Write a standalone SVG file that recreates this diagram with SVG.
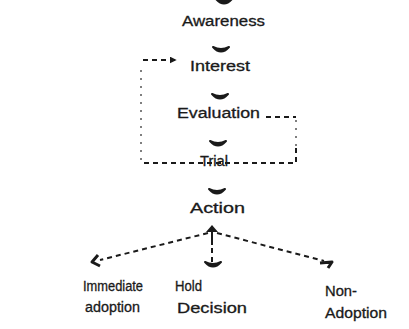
<svg xmlns="http://www.w3.org/2000/svg" xmlns:xlink="http://www.w3.org/1999/xlink" width="409" height="329" viewBox="0 0 409 329">
<style>
text{font-family:"Liberation Sans",Arial,sans-serif;font-size:14px;fill:#1a1a1a;stroke:#1a1a1a;stroke-width:0.3;text-anchor:start}
.dash{fill:none;stroke:#1a1a1a;stroke-width:2;stroke-dasharray:5,4}
.dot{fill:none;stroke:#555;stroke-width:1.5;stroke-dasharray:2,6}
.solid{fill:none;stroke:#1a1a1a;stroke-width:2}
</style>
<defs>
<path id="ah" d="M-8,-4 Q0,5 8,-4 Q0,0 -8,-4 Z" fill="#1a1a1a" stroke="#1a1a1a" stroke-width="2" stroke-linejoin="round"/>
<marker id="arr" viewBox="0 0 10 10" refX="9" refY="5" markerWidth="7" markerHeight="7" orient="auto" markerUnits="userSpaceOnUse">
<path d="M0,0 L10,5 L0,10 Z" fill="#1a1a1a"/>
</marker>
</defs>
<g id="connectors">
<use xlink:href="#ah" transform="translate(224,3)"/>
<use xlink:href="#ah" transform="translate(221,51)"/>
<use xlink:href="#ah" transform="translate(220,98)"/>
<use xlink:href="#ah" transform="translate(218,145)"/>
<use xlink:href="#ah" transform="translate(217,193)"/>
<path class="dash" d="M266,117 L296,117"/>
<path class="dot" d="M296,120 L296,148"/>
<path class="dash" d="M296,148 L296,163 L141,163"/>
<path class="dot" d="M141,160 L141,66"/>
<path class="dash" d="M143,60 L176,60" marker-end="url(#arr)"/>
<path class="dash" d="M208,233 L100,260"/>
<path class="dash" d="M217,233 L324,261"/>
<path class="solid" d="M212,232 L212,245"/>
<path class="dash" d="M212,248 L212,262"/>
<path d="M206,232 L212,225 L218,232 Z" fill="#1a1a1a"/>
<path d="M98,255 L92,262 L100,266" fill="none" stroke="#1a1a1a" stroke-width="3" stroke-linejoin="round"/>
<path d="M320,263 L332,262 L328,268" fill="none" stroke="#1a1a1a" stroke-width="3" stroke-linejoin="round"/>
<use xlink:href="#ah" transform="translate(213,266)"/>
</g>
<g id="awareness"><text x="182" y="26" textLength="83" lengthAdjust="spacingAndGlyphs">Awareness</text></g>
<g id="interest"><text x="190" y="71" textLength="60" lengthAdjust="spacingAndGlyphs">Interest</text></g>
<g id="evaluation"><text x="177" y="118" textLength="83" lengthAdjust="spacingAndGlyphs">Evaluation</text></g>
<g id="trial"><text x="200" y="166" textLength="28" lengthAdjust="spacingAndGlyphs">Trial</text></g>
<g id="action"><text x="190" y="213" textLength="55" lengthAdjust="spacingAndGlyphs">Action</text></g>
<g id="immediate"><text x="83" y="291" textLength="60" lengthAdjust="spacingAndGlyphs">Immediate</text><text x="85" y="312" textLength="55" lengthAdjust="spacingAndGlyphs">adoption</text></g>
<g id="hold"><text x="175" y="291" textLength="27" lengthAdjust="spacingAndGlyphs">Hold</text><text x="177" y="313" textLength="70" lengthAdjust="spacingAndGlyphs">Decision</text></g>
<g id="nonadoption"><text x="325" y="296" textLength="32" lengthAdjust="spacingAndGlyphs">Non-</text><text x="325" y="318" textLength="62" lengthAdjust="spacingAndGlyphs">Adoption</text></g>
</svg>
